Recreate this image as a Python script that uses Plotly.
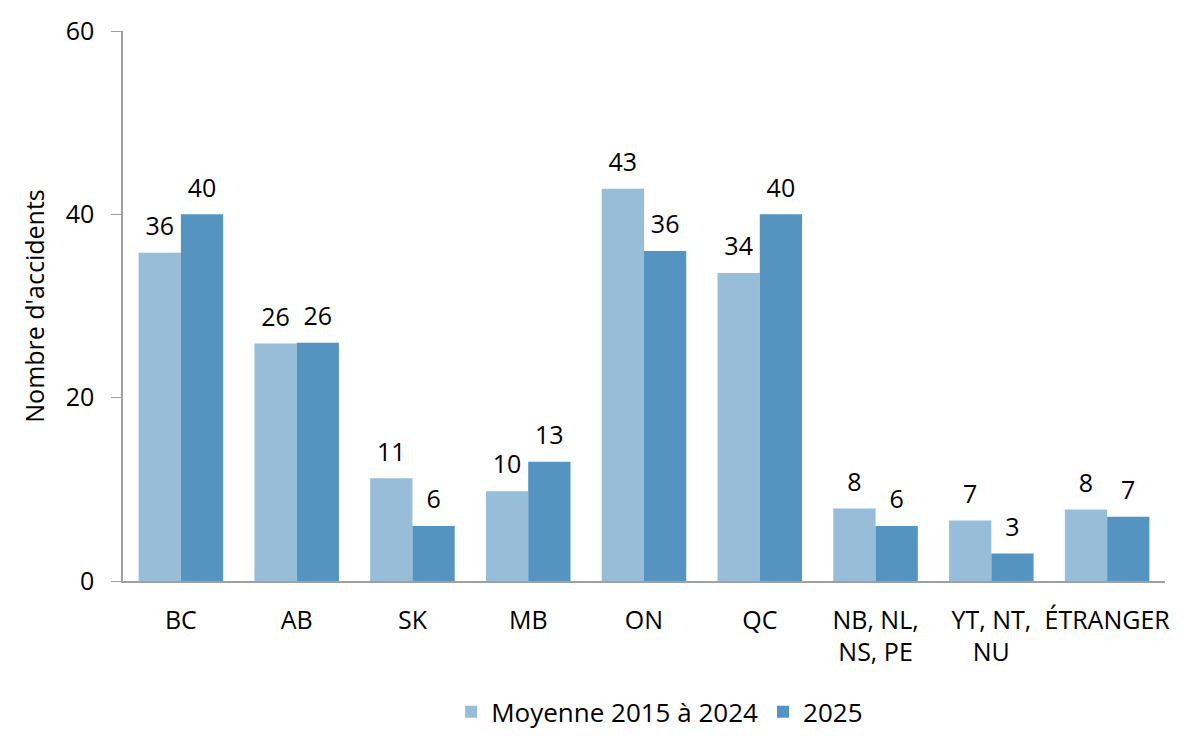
import plotly.graph_objects as go

# Accidents par province / territoire
provinces = ["BC", "AB", "SK", "MB", "ON", "QC", "NB, NL,<br>NS, PE", "YT, NT,<br>NU", "ÉTRANGER"]
moyenne_2015_2024 = [35.8, 25.9, 11.2, 9.8, 42.8, 33.6, 7.9, 6.6, 7.8]
annee_2025 = [40, 26, 6, 13, 36, 40, 6, 3, 7]

FONT = "Open Sans"
FS = 25
# number in full size, plus a tiny empty line under it to lift it off the bar
LABEL = "<span style='font-size:25px'>%{y:.0f}</span><br> "

fig = go.Figure()
fig.add_trace(go.Bar(
    x=provinces, y=moyenne_2015_2024, name="Moyenne 2015 à 2024",
    marker=dict(color="#97bdd8", line=dict(width=0)),
    texttemplate=LABEL, textposition="outside",
    textfont=dict(size=9, color="#000000"), cliponaxis=False,
))
fig.add_trace(go.Bar(
    x=provinces, y=annee_2025, name="2025",
    marker=dict(color="#5594c0", line=dict(width=0)),
    texttemplate=LABEL, textposition="outside",
    textfont=dict(size=9, color="#000000"), cliponaxis=False,
))

# page body has an 8px margin, so the figure is a bit smaller than the window
fig.update_layout(
    width=1184, height=736,
    barmode="group", bargap=0.27, bargroupgap=0,
    plot_bgcolor="white", paper_bgcolor="white",
    font=dict(family=FONT, size=FS, color="#000000"),
    margin=dict(l=115, r=27, t=23, b=163, autoexpand=False),
    legend=dict(orientation="h", x=0.515, xanchor="center", y=-0.195, yanchor="top",
                font=dict(size=26), itemwidth=30, traceorder="normal"),
)
fig.update_yaxes(
    range=[0, 60], dtick=20, showgrid=False, zeroline=False,
    showline=True, linecolor="#a0a0a0", linewidth=1.5,
    ticks="outside", ticklen=10, tickcolor="#a0a0a0",
    ticklabelstandoff=12,
    title=dict(text="Nombre d'accidents", font=dict(size=FS), standoff=14),
)
fig.update_xaxes(
    showgrid=False, showline=True, linecolor="#a0a0a0", linewidth=1.5,
    ticks="", tickangle=0, ticklabelstandoff=16,
)

fig.write_html("out.html")
